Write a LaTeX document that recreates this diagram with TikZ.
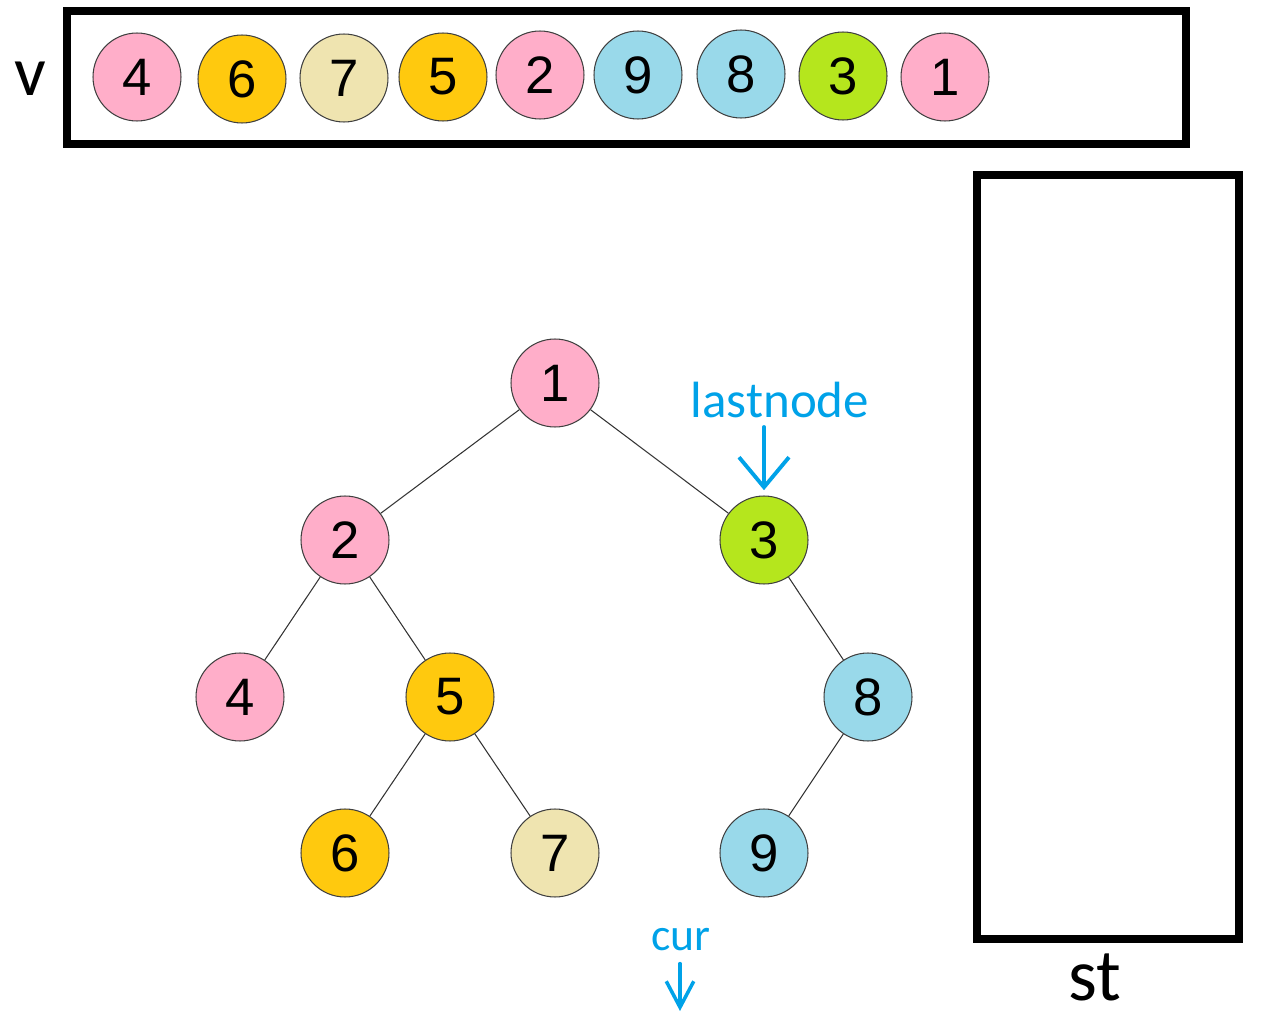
\documentclass[tikz,border=0pt]{standalone}
\usepackage{fontspec}
\setmainfont{Liberation Sans}
\newfontfamily\calib{Carlito}
\usetikzlibrary{arrows.meta, positioning}

\definecolor{rosa}{HTML}{FFAEC9}
\definecolor{gold}{HTML}{FFC90E}
\definecolor{sand}{HTML}{EFE4B0}
\definecolor{sky}{HTML}{99D9EA}
\definecolor{lime}{HTML}{B5E61D}
\definecolor{ptrblue}{HTML}{00A2E8}

\begin{document}
\begin{tikzpicture}[
    x=0.02cm, y=-0.02cm,
    every node/.style={inner sep=0pt},
    ball/.style={circle, draw=black!75, line width=0.6pt, minimum size=1.76cm, font=\fontsize{30}{32}\selectfont},
    edge/.style={draw=black!80, line width=0.6pt},
    frame/.style={draw, line width=4pt},
    ptr/.style={-{Straight Barb[length=0.6cm, width=1cm]}, draw=ptrblue, line width=2.2pt, line cap=round},
    tag/.style={font=\calib\fontsize{29}{31}\selectfont, text=ptrblue}
]
\useasboundingbox (0,0) rectangle (1262,1017);

% Vecteur v
\draw[frame] (67,11) rectangle (1186,144);
\node[font=\calib\fontsize{40}{42}\selectfont] (vlab) at (30,79) {v};
\node[ball, fill=rosa] (v1) at (137,77) {4};
\node[ball, fill=gold] (v2) at (242,79) {6};
\node[ball, fill=sand] (v3) at (344,78) {7};
\node[ball, fill=gold] (v4) at (443,77) {5};
\node[ball, fill=rosa] (v5) at (540,75) {2};
\node[ball, fill=sky]  (v6) at (638,75) {9};
\node[ball, fill=sky]  (v7) at (741,74) {8};
\node[ball, fill=lime] (v8) at (843,76) {3};
\node[ball, fill=rosa] (v9) at (945,77) {1};

% Pile st
\draw[frame] (977,175) rectangle (1239,939);
\node[font=\calib\fontsize{42}{44}\selectfont] (stlab) at (1095,977) {st};

% Arbre
\node[ball, fill=rosa] (t1) at (555,383) {1};
\node[ball, fill=rosa] (t2) at (345,540) {2};
\node[ball, fill=lime] (t3) at (764,540) {3};
\node[ball, fill=rosa] (t4) at (240,697) {4};
\node[ball, fill=gold] (t5) at (450,697) {5};
\node[ball, fill=sky]  (t8) at (868,697) {8};
\node[ball, fill=gold] (t6) at (345,853) {6};
\node[ball, fill=sand] (t7) at (555,853) {7};
\node[ball, fill=sky]  (t9) at (764,853) {9};

\draw[edge] (t1) -- (t2);
\draw[edge] (t1) -- (t3);
\draw[edge] (t2) -- (t4);
\draw[edge] (t2) -- (t5);
\draw[edge] (t3) -- (t8);
\draw[edge] (t5) -- (t6);
\draw[edge] (t5) -- (t7);
\draw[edge] (t8) -- (t9);

% Pointeurs
\node[tag] (last) at (780,400) {lastnode};
\draw[ptr, shorten <=5pt, shorten >=3pt, xshift=4*0.02cm] (last.south -| t3.north) -- (t3.north);

\node[tag, font=\calib\fontsize{26}{28}\selectfont] (cur) at (681,940) {cur};
\coordinate (curend) at (680,1011);
\draw[ptr, -{Straight Barb[length=0.52cm, width=0.55cm]}, line width=2pt] (cur.south -| curend) ++(0,12) -- (curend);

\end{tikzpicture}
\end{document}
